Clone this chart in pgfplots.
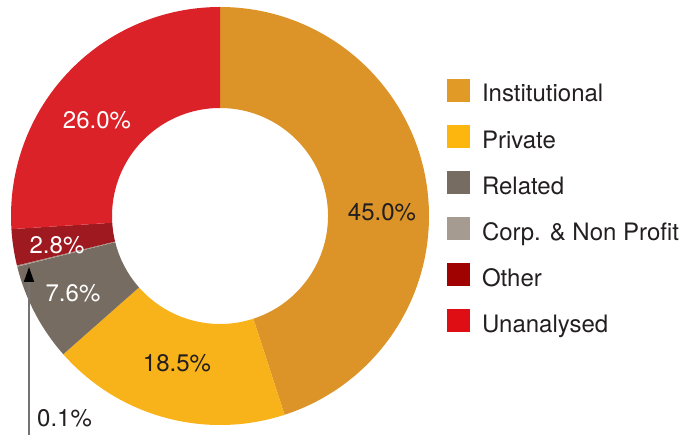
\documentclass[border=0pt]{standalone}
\usepackage{pgfplots}
\pgfplotsset{compat=1.18}
\usepackage{pgfplotstable}
\usepackage{fontspec}
\setmainfont{TeX Gyre Heros}
\usetikzlibrary{arrows.meta}

\definecolor{cInst}{HTML}{DC9327}
\definecolor{cPriv}{HTML}{F8B21A}
\definecolor{cRel}{HTML}{766C61}
\definecolor{cCorp}{HTML}{A59B91}
\definecolor{cOth}{HTML}{9E1A20}
\definecolor{cUna}{HTML}{DC2229}
% legend swatches are a touch brighter than the ring
\definecolor{lInst}{HTML}{E09A25}
\definecolor{lPriv}{HTML}{FDB60E}
\definecolor{lOth}{HTML}{A00202}
\definecolor{lUna}{HTML}{DF0D14}
\definecolor{txt}{HTML}{231F20}

% share of each group, clockwise from 12 o'clock
\pgfplotstableread{
share colour
45.0 cInst
18.5 cPriv
7.6 cRel
0.1 cCorp
2.8 cOth
26.0 cUna
}\shares

\begin{document}
\begin{tikzpicture}
\begin{axis}[
    hide axis, clip=false,
    x=1pt, y=1pt,
    xmin=0, xmax=692, ymin=0, ymax=435,
    legend image code/.code={\fill[#1, draw=none] (0pt,0pt) rectangle (23pt,23pt);},
    legend style={at={(axis cs:447,356)}, anchor=north west,
        draw=none, fill=none, inner sep=0pt, outer sep=0pt,
        row sep=21.6pt,
        nodes={inner sep=0pt, anchor=base west, text=txt,
               font=\fontsize{24}{28}\selectfont},
        /tikz/every odd column/.append style={column sep=12pt}},
]
\def\cx{220}\def\cy{219}\def\R{209}\def\r{108}
\def\startang{90}
\pgfplotsforeachungrouped \i in {0,...,5}{%
    \pgfplotstablegetelem{\i}{share}\of\shares \let\val\pgfplotsretval
    \pgfplotstablegetelem{\i}{colour}\of\shares \let\col\pgfplotsretval
    \pgfmathsetmacro\endang{\startang-3.6*\val}
    \pgfmathsetmacro\xa{\cx+\R*cos(\startang)}
    \pgfmathsetmacro\ya{\cy+\R*sin(\startang)}
    \pgfmathsetmacro\xb{\cx+\r*cos(\endang)}
    \pgfmathsetmacro\yb{\cy+\r*sin(\endang)}
    \edef\temp{\noexpand\fill[\col] (axis cs:\xa,\ya)
        arc[start angle=\startang, end angle=\endang, radius=\R pt]
        -- (axis cs:\xb,\yb)
        arc[start angle=\endang, end angle=\startang, radius=\r pt] -- cycle;}
    \temp
    \let\startang\endang
}

\addlegendimage{fill=lInst}\addlegendentry{Institutional}
\addlegendimage{fill=lPriv}\addlegendentry{Private}
\addlegendimage{fill=cRel}\addlegendentry{Related}
\addlegendimage{fill=cCorp}\addlegendentry{Corp. \& Non Profit}
\addlegendimage{fill=lOth}\addlegendentry{Other}
\addlegendimage{fill=lUna}\addlegendentry{Unanalysed}

\begin{scope}[every node/.style={font=\fontsize{24}{28}\selectfont, inner sep=0pt}]
\node[text=txt] at (axis cs:382,223) {45.0\%};
\node[text=txt] at (axis cs:177,72) {18.5\%};
\node[text=white] at (axis cs:73,142) {7.6\%};
\node[text=white] at (axis cs:57,190) {2.8\%};
\node[text=white] at (axis cs:97,315) {26.0\%};
\node[text=txt, anchor=west] at (axis cs:37,17) {0.1\%};
\end{scope}
\draw[line width=1.5pt, color=gray!110,
      -{Triangle[length=15pt, width=10pt, color=black]}]
    (axis cs:29,0) -- (axis cs:29,168);
\end{axis}
\pgfresetboundingbox
\path (0,0) rectangle (692pt,435pt);
\end{tikzpicture}
\end{document}
